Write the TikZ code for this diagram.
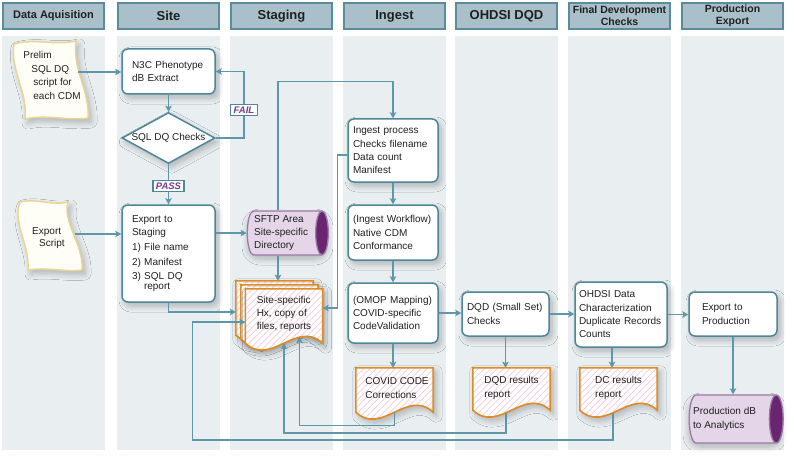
\documentclass[tikz,border=0pt]{standalone}
\usepackage{fontspec}
\setmainfont{Liberation Sans}
\usetikzlibrary{positioning, shapes.geometric, arrows.meta, patterns.meta, shadows.blur}

\definecolor{laneFill}{HTML}{E9EEF1}
\definecolor{headFill}{HTML}{A9BFC9}
\definecolor{headLine}{HTML}{5B8C9C}
\definecolor{flow}{HTML}{5E97A8}
\definecolor{boxLine}{HTML}{4D8799}
\definecolor{tapeLine}{HTML}{E9D58F}
\definecolor{tapeFill}{HTML}{FFFEF6}
\definecolor{docLine}{HTML}{E08A22}
\definecolor{hatch}{HTML}{F5C8DC}
\definecolor{dbFill}{HTML}{E4D5E8}
\definecolor{dbLine}{HTML}{9C7AA6}
\definecolor{dbEnd}{HTML}{6A2570}
\definecolor{tagText}{HTML}{7A3A85}
\definecolor{ink}{HTML}{202020}

\tikzset{
  soft/.style={blur shadow={shadow xshift=3pt, shadow yshift=-4pt,
      shadow blur radius=6pt, shadow blur steps=8, shadow opacity=25}},
  docline/.style={draw=docLine, line width=1.6pt, soft, preaction={fill=white},
      pattern={Lines[angle=45,distance=4.5pt,line width=0.7pt]}, pattern color=hatch},
  tapeline/.style={draw=tapeLine, line width=1.4pt, fill=tapeFill, soft},
}

% paper outline with a wavy bottom, drawn round an empty node
\newcommand\docoutline[1]{%
  \draw[docline] (#1.north west) -- (#1.north east) -- (#1.south east)
    .. controls ([xshift=-26pt,yshift=24pt]#1.south east) and ([xshift=26pt,yshift=-24pt]#1.south west) .. (#1.south west)
    coordinate[pos=0.3] (#1-a) coordinate[pos=0.5] (#1-b) coordinate[pos=0.57] (#1-c)
    -- cycle;}

\begin{document}
\begin{tikzpicture}[
    x=1pt, y=-1pt,
    font=\fontsize{10}{13.3}\selectfont, text=ink,
    head/.style={draw=headLine, line width=1.8pt, fill=headFill, minimum width=101pt,
      minimum height=26pt, inner sep=0pt, align=center, font=\bfseries\fontsize{#1}{12}\selectfont},
    box/.style={draw=boxLine, line width=1.5pt, fill=white, rounded corners=6pt, align=left, soft},
    check/.style={diamond, aspect=2, draw=boxLine, line width=1.5pt, fill=white, inner sep=0pt,
      minimum width=93pt, minimum height=51pt, soft},
    tag/.style={draw=boxLine, line width=1.2pt, fill=white, inner xsep=3pt, inner ysep=2pt,
      text=tagText, font=\bfseries\itshape\fontsize{9.5}{10}\selectfont},
    db/.style={cylinder, shape aspect=0.3, draw=dbLine, line width=1.3pt, cylinder uses custom fill,
      cylinder body fill=dbFill, cylinder end fill=dbEnd, inner sep=2pt},
    dbshadow/.style={soft, rounded corners=12pt},
    doc/.style={inner sep=0pt, align=left},
    flow/.style={draw=flow, line width=1.4pt},
    arr/.style={flow, -{Stealth[length=6pt,width=6.5pt,inset=1.2pt]}},
  ]
  \useasboundingbox (0,0) rectangle (794,465);

  % lanes and headers
  \foreach \x/\fs/\lbl in {2/11/{Data Aquisition}, 117/13/Site, 230/13/Staging, 343/13/Ingest,
      455/13/OHDSI DQD, 568/10.5/{Final Development\\Checks}, 681/10.5/{Production\\Export}}{
    \fill[laneFill] (\x,36) rectangle ++(103,414);
    \node[head=\fs] (h\x) at (\x+51.5,16) {\lbl};
  }

  % script papers
  \draw[tapeline] (14,44) .. controls (35,38) and (55,46) .. (76,41)
    .. controls (72,69) and (90,91) .. (88,118)
    .. controls (67,121) and (46,114) .. (25,119)
    .. controls (28,92) and (10,70) .. (14,44) -- cycle;
  \draw[tapeline] (20,202) .. controls (36,198) and (52,206) .. (68,202)
    .. controls (62,222) and (84,245) .. (82,270)
    .. controls (64,272) and (46,267) .. (28,270)
    .. controls (30,245) and (12,222) .. (20,202) -- cycle;
  \node[inner sep=0pt, align=left, font=\fontsize{10}{13.6}\selectfont] (prelim) at (52,75.5)
    {Prelim\\\hspace*{8pt}SQL DQ\\\hspace*{10pt}script for\\\hspace*{10pt}each CDM};
  \node[inner sep=0pt, align=left, font=\fontsize{10}{12}\selectfont] (script) at (48.5,238)
    {Export\\\hspace*{7pt}Script};
  \coordinate (prelimout) at (78,72);
  \coordinate (scriptout) at (75,234);

  % site
  \node[box, text width=73pt, inner xsep=10pt, minimum height=45pt] (n3c) at (168.5,71.5)
    {N3C Phenotype\\dB Extract};
  \node[check] (chk) at (168.5,138) {SQL DQ Checks};
  \node[tag] (fail) at (244,110) {FAIL};
  \node[tag] (pass) at (168.5,186) {PASS};
  \node[box, text width=73pt, inner xsep=10pt, minimum height=97pt,
        font=\fontsize{10}{12.5}\selectfont] (stg) at (168.5,253.5)
    {Export to\\Staging\\[3pt]1) File name\\[2pt]2) Manifest\\[2pt]3) SQL DQ\\[-3pt]\hspace*{12pt}report};

  % staging
  \path[dbshadow] (245,211) rectangle (324,255);
  \node[db, minimum height=81pt, minimum width=44pt] (sftp) at (283,233) {\rule{0pt}{38pt}};
  \node[doc, anchor=west] (sftp-t) at (254,233) {SFTP Area\\Site-specific\\Directory};
  \node[doc, minimum width=77pt, minimum height=54pt] (hxb) at (274.5,308) {};
  \docoutline{hxb}
  \node[doc, minimum width=77pt, minimum height=54pt] (hxm) at (279.5,312) {};
  \docoutline{hxm}
  \node[doc, minimum width=77pt, minimum height=54pt] (hx) at (284,316) {};
  \docoutline{hx}
  \node[doc] (hx-t) at (284,314) {Site-specific\\Hx, copy of\\files, reports};

  % ingest
  \node[box, text width=80pt, inner xsep=5pt, minimum height=63pt] (ingest) at (393,150.5)
    {Ingest process\\Checks filename\\Data count\\Manifest};
  \node[box, text width=80pt, inner xsep=5pt, minimum height=55pt] (wf) at (393,232.5)
    {(Ingest Workflow)\\Native CDM\\Conformance};
  \node[box, text width=80pt, inner xsep=5pt, minimum height=60pt] (omop) at (393,313)
    {(OMOP Mapping)\\COVID-specific\\CodeValidation};
  \node[doc, minimum width=77pt, minimum height=44pt] (covid) at (394.5,390) {};
  \docoutline{covid}
  \node[doc] (covid-t) at (397,388) {COVID CODE\\Corrections};

  % dqd, checks, export
  \node[box, text width=77pt, inner xsep=5pt, minimum height=44pt] (dqd) at (505.5,314)
    {DQD (Small Set)\\Checks};
  \node[doc, minimum width=77pt, minimum height=42pt] (dqdrep) at (511.5,389) {};
  \docoutline{dqdrep}
  \node[doc] (dqdrep-t) at (511.5,388) {DQD results\\report};
  \node[box, text width=84pt, inner xsep=4pt, minimum height=65pt] (ohdsi) at (621,314.5)
    {OHDSI Data\\Characterization\\Duplicate Records\\Counts};
  \node[doc, minimum width=77pt, minimum height=42pt] (dcrep) at (618.5,389) {};
  \docoutline{dcrep}
  \node[doc] (dcrep-t) at (618.5,388) {DC results\\report};
  \node[box, text width=62pt, inner xsep=13pt, minimum height=44pt] (prod) at (733,314)
    {Export to\\Production};
  \path[dbshadow] (686,395) rectangle (778,443);
  \node[db, minimum height=94pt, minimum width=48pt] (proddb) at (731,419) {\rule{0pt}{42pt}};
  \node[doc, anchor=west] (proddb-t) at (693,419) {Production dB\\to Analytics};

  % connectors
  \draw[arr] (prelimout) -- (prelimout -| n3c.west);
  \draw[arr] (n3c) -- (chk);
  \draw[flow] (chk.east) -| (fail.south);
  \draw[arr] (fail.north) |- (n3c.east);
  \draw[flow] (chk.south) -- (pass.north);
  \draw[arr] (pass.south) -- (stg.north);
  \draw[arr] (scriptout) -- (scriptout -| stg.west);
  \draw[arr] (stg.east |- sftp.west) -- (sftp.west);
  \draw[arr] ([xshift=-5pt]sftp.south) -- ([xshift=-5pt]sftp.south |- hxb.north);
  \draw[arr] ([xshift=-5pt]sftp.north) |- ([yshift=37pt]ingest.north) -- (ingest.north);
  \draw[arr] (stg.south) |- ([yshift=-4pt]hxb.west);
  \draw[arr] ([yshift=-4.5pt]ingest.west) -- ++(-10,0) |- ([yshift=8pt]hx.east);
  \draw[arr] (ingest) -- (wf);
  \draw[arr] (wf) -- (omop);
  \draw[arr] (omop.south) -- (omop.south |- covid.north);
  \draw[arr] (omop.east) -- (omop.east -| dqd.west);
  \draw[arr] (dqd.east) -- (dqd.east -| ohdsi.west);
  \draw[arr] (ohdsi.east) -- (ohdsi.east -| prod.west);
  \draw[arr] (dqd.south) -- (dqd.south |- dqdrep.north);
  \draw[arr] ([xshift=-9pt]ohdsi.south) -- ([xshift=-9pt]ohdsi.south |- dcrep.north);
  \draw[arr] (prod.south) -- (prod.south |- proddb.north);
  \draw[arr] (covid-b) -- ++(0,13) -| (hx-a);
  \draw[arr] (dqdrep-c) -- (dqdrep-c |- 0,433) -| (hx-b);
  \draw[arr] (dcrep-c) -- (dcrep-c |- 0,440) -| ([xshift=-53pt,yshift=-6pt]hx.west) -- ([yshift=-6pt]hx.west);
\end{tikzpicture}
\end{document}
